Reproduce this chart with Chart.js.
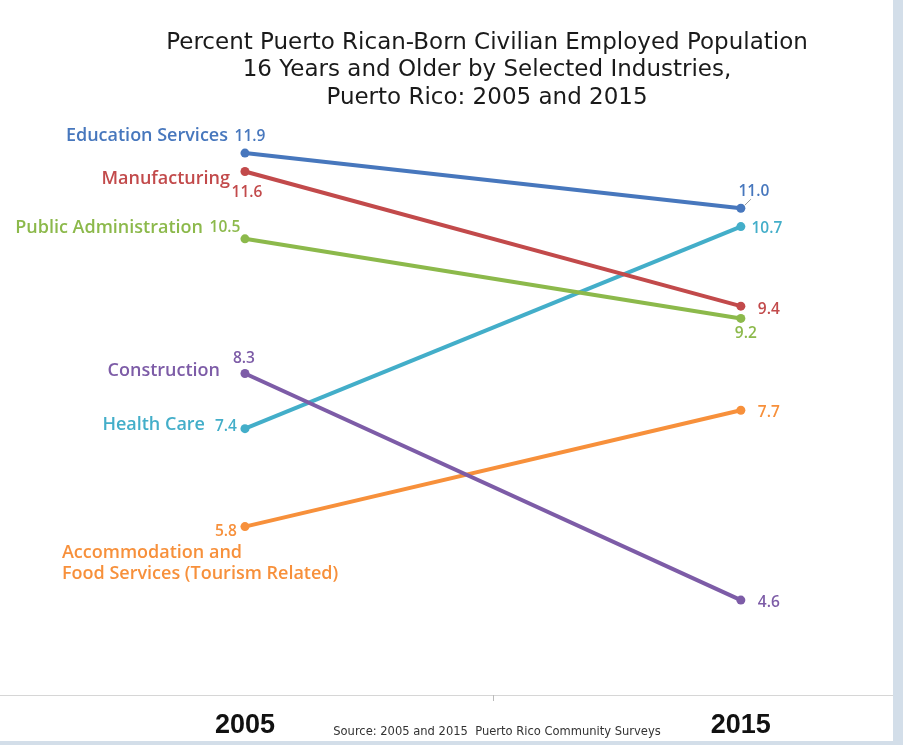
<!DOCTYPE html>
<html>
<head>
<meta charset="utf-8">
<script src="https://cdn.jsdelivr.net/npm/chart.js@4/dist/chart.umd.min.js"></script>
<style>
  body { margin: 0; background: #ffffff; }
  #contenedor { width: 903px; height: 745px; }
</style>
</head>
<body>
<div id="contenedor"><canvas id="grafico" width="903" height="745"></canvas></div>
<script>
// Datos del gráfico (porcentaje de empleados nacidos en Puerto Rico)
const anios = [2005, 2015];
const industrias = [
    'Education Services',
    'Manufacturing',
    'Public Administration',
    'Construction',
    'Health Care',
    'Accommodation and Food Services (Tourism Related)'
];
const valores2005 = [11.9, 11.6, 10.5, 8.3, 7.4, 5.8];
const valores2015 = [11.0, 9.4, 9.2, 4.6, 10.7, 7.7];

const titulo = [
    'Percent Puerto Rican-Born Civilian Employed Population',
    '16 Years and Older by Selected Industries,',
    'Puerto Rico: 2005 and 2015'
];
const fuente = 'Source: 2005 and 2015  Puerto Rico Community Surveys';

// Estilos de cada serie
const colores = ['#4777bd', '#c24a4b', '#8cb94b', '#7d5ca7', '#43aec9', '#f7903b'];

// Texto del nombre de cada industria (líneas) y su posición relativa al punto de 2005
const nombres = [
    { lineas: ['Education Services'], dx: -17, dy: -17, align: 'right' },
    { lineas: ['Manufacturing'], dx: -15, dy: 7, align: 'right' },
    { lineas: ['Public Administration'], dx: -42, dy: -11, align: 'right' },
    { lineas: ['Construction'], dx: -25, dy: -3, align: 'right' },
    { lineas: ['Health Care'], dx: -40, dy: -4, align: 'right' },
    { lineas: ['Accommodation and', 'Food Services (Tourism Related)'], dx: -183, dy: 26, align: 'left' }
];
// Desplazamiento de las etiquetas de valor (centro del texto) para 2005 y 2015
const posValor2005 = [[5, -17], [2, 21], [-20, -11], [-1, -15], [-19, -2], [-19, 5]];
const posValor2015 = [[13, -17], [28, 3], [5, 15], [28, 2], [26, 2], [28, 2]];

const fuenteNombre = '600 18px "Open Sans", sans-serif';
const fuenteValor = '600 15.5px "Open Sans", sans-serif';

// Construir los datasets a partir de los arreglos
const datasets = industrias.map(function(nombre, i) {
    return {
        label: nombre,
        data: [
            { x: anios[0], y: valores2005[i] },
            { x: anios[1], y: valores2015[i] }
        ],
        borderColor: colores[i],
        backgroundColor: colores[i],
        pointBackgroundColor: colores[i],
        pointBorderWidth: 0,
        pointRadius: 4.5,
        borderWidth: 4,
        tension: 0
    };
});

// Plugin para fondo, título, etiquetas y fuente
const pluginDecoracion = {
    id: 'decoracion',
    beforeDraw(chart) {
        const ctx = chart.ctx;
        ctx.save();
        ctx.fillStyle = '#ffffff';
        ctx.fillRect(0, 0, chart.width, chart.height);
        ctx.restore();
    },
    afterDatasetsDraw(chart) {
        const ctx = chart.ctx;
        ctx.save();
        ctx.textBaseline = 'middle';

        chart.data.datasets.forEach(function(ds, i) {
            const meta = chart.getDatasetMeta(i);
            const p0 = meta.data[0];
            const p1 = meta.data[1];
            ctx.fillStyle = colores[i];

            // Nombre de la industria
            const n = nombres[i];
            ctx.font = fuenteNombre;
            ctx.textAlign = n.align;
            n.lineas.forEach(function(linea, k) {
                ctx.fillText(linea, p0.x + n.dx, p0.y + n.dy + k * 21);
            });

            // Valores
            ctx.font = fuenteValor;
            ctx.textAlign = 'center';
            ctx.fillText(valores2005[i].toFixed(1), p0.x + posValor2005[i][0], p0.y + posValor2005[i][1]);
            ctx.fillText(valores2015[i].toFixed(1), p1.x + posValor2015[i][0], p1.y + posValor2015[i][1]);
        });

        // Pequeña línea guía para el 11.0
        const pEdu = chart.getDatasetMeta(0).data[1];
        ctx.strokeStyle = '#999999';
        ctx.lineWidth = 1;
        ctx.beginPath();
        ctx.moveTo(pEdu.x + 4, pEdu.y - 3);
        ctx.lineTo(pEdu.x + 10, pEdu.y - 9);
        ctx.stroke();

        // Título
        ctx.fillStyle = '#1a1a1a';
        ctx.font = '23px "DejaVu Sans", sans-serif';
        ctx.textAlign = 'center';
        titulo.forEach(function(linea, k) {
            ctx.fillText(linea, 487, 43 + k * 27.5);
        });
        ctx.restore();
    },
    afterDraw(chart) {
        const ctx = chart.ctx;
        const escalaX = chart.scales.x;
        ctx.save();

        // Marca central del eje (2010)
        const xMedio = escalaX.getPixelForValue(2010);
        ctx.strokeStyle = '#bbbbbb';
        ctx.lineWidth = 1;
        ctx.beginPath();
        ctx.moveTo(Math.round(xMedio) + 0.5, chart.chartArea.bottom);
        ctx.lineTo(Math.round(xMedio) + 0.5, chart.chartArea.bottom + 6);
        ctx.stroke();

        // Fuente
        ctx.fillStyle = '#333333';
        ctx.font = '12.8px "Liberation Sans Narrow", "DejaVu Sans Condensed", sans-serif';
        ctx.textAlign = 'center';
        ctx.textBaseline = 'middle';
        ctx.fillText(fuente, 497, 732);

        // Bordes del panel
        ctx.fillStyle = '#d3dee9';
        ctx.fillRect(893, 0, 10, chart.height);
        ctx.fillRect(0, 741, chart.width, 4);
        ctx.restore();
    }
};

const ctx = document.getElementById('grafico').getContext('2d');
const grafico = new Chart(ctx, {
    type: 'line',
    data: { datasets: datasets },
    options: {
        responsive: false,
        devicePixelRatio: 1,
        animation: false,
        layout: { padding: 0, autoPadding: false },
        plugins: {
            legend: { display: false },
            tooltip: { enabled: false },
            title: { display: false }
        },
        scales: {
            x: {
                type: 'linear',
                min: 2000.06,
                max: 2018.27,
                afterBuildTicks: function(escala) {
                    escala.ticks = anios.map(function(a) { return { value: a }; });
                },
                afterFit: function(escala) {
                    escala.height = 50;
                },
                ticks: {
                    callback: function(v) { return String(v); },
                    color: '#111111',
                    padding: 14,
                    maxRotation: 0,
                    autoSkip: false,
                    font: { family: '"Liberation Sans Narrow", "Liberation Sans", sans-serif', size: 27, weight: 'bold' }
                },
                grid: { display: false, drawTicks: false },
                border: { display: true, color: '#d6d6d6', width: 1 }
            },
            y: {
                display: false,
                min: 3.05,
                max: 14.4
            }
        }
    },
    plugins: [pluginDecoracion]
});
</script>
</body>
</html>
